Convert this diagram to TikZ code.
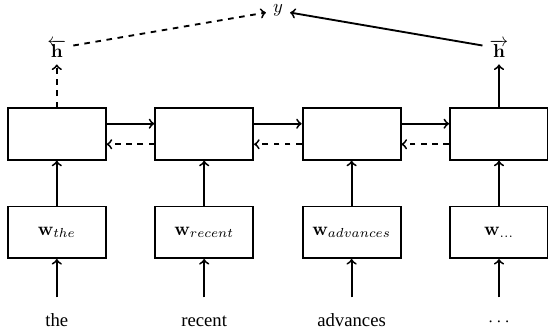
\documentclass[tikz,border=0pt]{standalone}
\usepackage[no-math]{fontspec}
\setmainfont{Liberation Serif}
\begin{document}
\begin{tikzpicture}[x=0.535pt,y=-0.535pt, line width=1pt,
  cell/.style={draw, minimum width=52.4pt, minimum height=27.6pt, inner sep=0pt},
  word/.style={anchor=base, text height=7pt, text depth=2pt},
  conn/.style={->},
  back/.style={->, dashed}]
\useasboundingbox (0,0) rectangle (548,331);
% recurrent cells
\node[cell] (r1) at (56.8,134) {};
\node[cell] (r2) at (204.2,134) {};
\node[cell] (r3) at (351.6,134) {};
\node[cell] (r4) at (499,134) {};
% embeddings
\node[cell] (e1) at (56.8,232.3) {$\mathbf{w}_{the}$};
\node[cell] (e2) at (204.2,232.3) {$\mathbf{w}_{recent}$};
\node[cell] (e3) at (351.6,232.3) {$\mathbf{w}_{advances}$};
\node[cell] (e4) at (499,232.3) {$\mathbf{w}_{\ldots}$};
% words
\node[word] (t1) at (56.8,327) {the};
\node[word] (t2) at (204.2,327) {recent};
\node[word] (t3) at (351.6,327) {advances};
\node[word] (t4) at (499,327) {$\cdots$};
% word -> embedding
\foreach \i in {1,2,3,4} {
  \draw[conn, shorten <=5pt] (t\i.north) -- (e\i.south);
  \draw[conn] (e\i.north) -- (r\i.south);
}
% horizontal connections
\foreach \a/\b in {1/2,2/3,3/4} {
  \draw[conn] ([yshift=5.5pt]r\a.east) -- ([yshift=5.5pt]r\b.west);
  \draw[back] ([yshift=-5.5pt]r\b.west) -- ([yshift=-5.5pt]r\a.east);
}
% outputs
\node[anchor=south] (hl) at (56.8,64.5) {$\overleftarrow{\mathbf{h}}$};
\node[anchor=south] (hr) at (499,64.5) {$\overrightarrow{\mathbf{h}}$};
\draw[back] (r1.north) -- (hl.south);
\draw[conn] (r4.north) -- (hr.south);
\node (y) at (278,10.5) {$y$};
\draw[back] (hl) -- (y);
\draw[conn] (hr) -- (y);
\end{tikzpicture}
\end{document}
